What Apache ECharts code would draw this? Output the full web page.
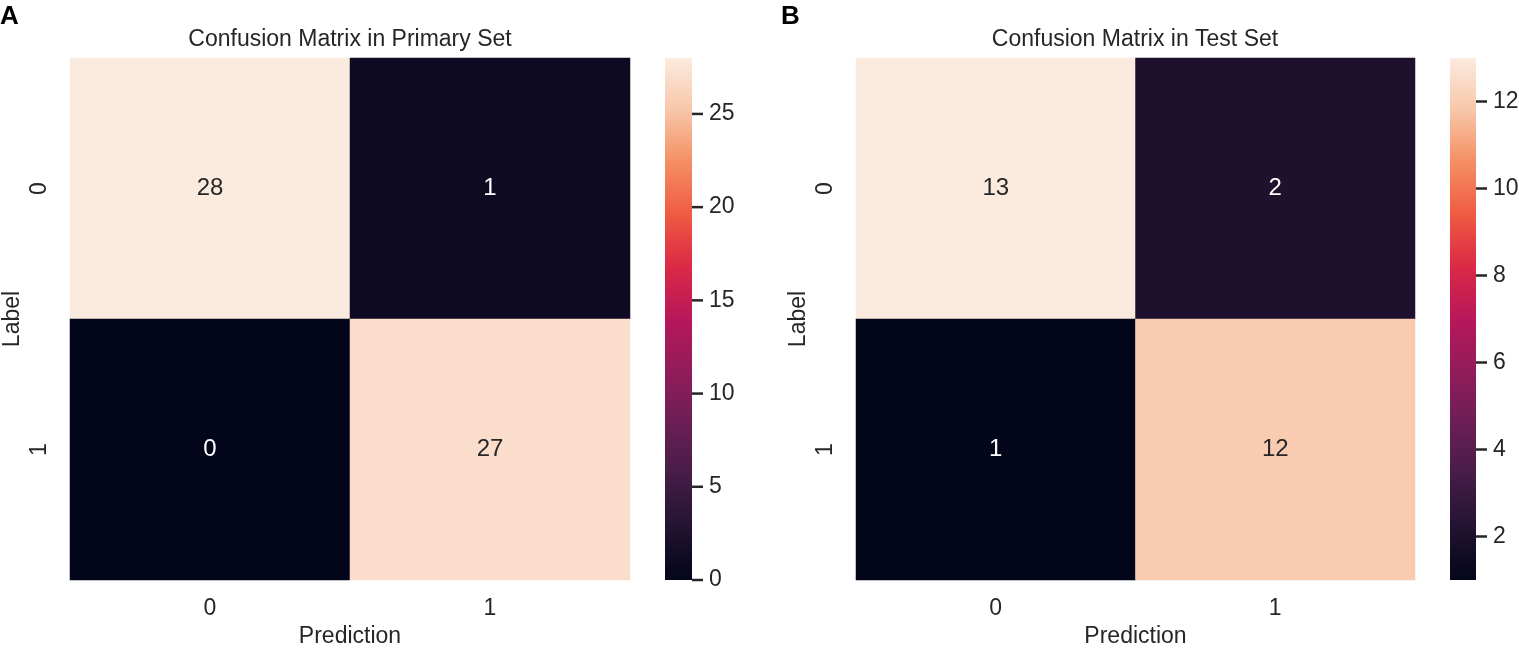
<!DOCTYPE html>
<html>
<head>
<meta charset="utf-8">
<script src="https://cdn.jsdelivr.net/npm/echarts@6/dist/echarts.min.js"></script>
<style>
  html, body { margin: 0; padding: 0; background: #fff; }
  #main { width: 1519px; height: 650px; }
</style>
</head>
<body>
<div id="main"></div>
<script>
// 数据
var xCats = ['0', '1'];
var yCats = ['0', '1'];
var primaryVals = [[28, 1], [0, 27]];   // 行 = Label, 列 = Prediction
var testVals = [[13, 2], [1, 12]];
var primaryRange = [0, 28];
var testRange = [1, 13];
var primaryTicks = [0, 5, 10, 15, 20, 25];
var testTicks = [2, 4, 6, 8, 10, 12];

// rocket 色带（从低到高）
var rocket = ['#03051A', '#221331', '#451C47', '#6B1F56', '#921C5B', '#B8175A',
              '#DB2946', '#EF5B42', '#F58E62', '#F8C6A8', '#FBEBDF'];

var FONT = 'Liberation Sans, Arial, sans-serif';
var TXT = '#262626';

function toData(vals, range){
	var out = [];
	for (var r = 0; r < vals.length; r++) {
		for (var c = 0; c < vals[r].length; c++) {
			var v = vals[r][c];
			var t = (v - range[0]) / (range[1] - range[0]);
			out.push({
				value: [c, r, v],
				label: { color: t < 0.5 ? '#ffffff' : TXT }
			});
		}
	}
	return out;
}

function gradStops(){
	var stops = [];
	for (var i = 0; i < rocket.length; i++) {
		// 顶部为最大值
		stops.push({ offset: i / (rocket.length - 1), color: rocket[rocket.length - 1 - i] });
	}
	return stops;
}

/**
 * 色条
 */
function barRender(params, api){
	var p0 = api.coord([0, api.value(2)]);
	var p1 = api.coord([1, api.value(1)]);
	return {
		type: 'rect',
		shape: { x: p0[0], y: p0[1], width: p1[0] - p0[0], height: p1[1] - p0[1] },
		style: { fill: new echarts.graphic.LinearGradient(0, 0, 0, 1, gradStops()) }
	};
}

/**
 * 色条刻度线
 */
function tickRender(params, api){
	var p = api.coord([1, api.value(0)]);
	return {
		type: 'line',
		shape: { x1: p[0], y1: p[1], x2: p[0] + 11, y2: p[1] },
		style: { stroke: TXT, lineWidth: 2.5 }
	};
}

function catX(idx){
	return {
		type: 'category', gridIndex: idx, data: xCats,
		name: 'Prediction', nameLocation: 'middle', nameGap: 45,
		nameTextStyle: { fontSize: 23, color: TXT, fontFamily: FONT },
		axisLine: { show: false }, axisTick: { show: false },
		axisLabel: { fontSize: 23, color: TXT, fontFamily: FONT, margin: 17 },
		splitLine: { show: false }
	};
}
function catY(idx){
	return {
		type: 'category', gridIndex: idx, data: yCats, inverse: true,
		name: 'Label', nameLocation: 'middle', nameGap: 46,
		nameTextStyle: { fontSize: 23, color: TXT, fontFamily: FONT },
		axisLine: { show: false }, axisTick: { show: false },
		axisLabel: { fontSize: 23, color: TXT, fontFamily: FONT, rotate: 90, margin: 19 },
		splitLine: { show: false }
	};
}
function barX(idx){
	return { type: 'value', gridIndex: idx, min: 0, max: 1, show: false };
}
function barY(idx, range, ticks){
	return {
		type: 'value', gridIndex: idx, min: range[0], max: range[1], position: 'right',
		axisLine: { show: false },
		axisTick: { show: false },
		axisLabel: { fontSize: 23, color: TXT, fontFamily: FONT, margin: 17, customValues: ticks },
		splitLine: { show: false }
	};
}
function tickData(ticks){
	var d = [];
	for (var i = 0; i < ticks.length; i++) d.push([ticks[i]]);
	return d;
}

function mkGrid(left, width){
	return { left: left, top: 58, width: width, height: 522, containLabel: false, outerBoundsMode: 'none' };
}

var myChart = echarts.init(document.getElementById('main'));
var option = {
	backgroundColor: '#ffffff',
	animation: false,
	grid: [mkGrid(70, 560), mkGrid(665, 27), mkGrid(856, 559), mkGrid(1450, 26)],
	xAxis: [catX(0), barX(1), catX(2), barX(3)],
	yAxis: [catY(0), barY(1, primaryRange, primaryTicks), catY(2), barY(3, testRange, testTicks)],
	visualMap: [
		{ show: false, type: 'continuous', seriesIndex: 0, dimension: 2,
		  min: primaryRange[0], max: primaryRange[1], inRange: { color: rocket } },
		{ show: false, type: 'continuous', seriesIndex: 3, dimension: 2,
		  min: testRange[0], max: testRange[1], inRange: { color: rocket } }
	],
	graphic: [
		{ type: 'text', left: 0, top: 4, style: { text: 'A', fontSize: 26, fontWeight: 'bold', fill: '#000', fontFamily: FONT } },
		{ type: 'text', left: 781, top: 4, style: { text: 'B', fontSize: 26, fontWeight: 'bold', fill: '#000', fontFamily: FONT } },
		{ type: 'text', x: 350, y: 40, style: { text: 'Confusion Matrix in Primary Set', fontSize: 23, fill: TXT,
			fontFamily: FONT, align: 'center', verticalAlign: 'middle' } },
		{ type: 'text', x: 1135, y: 40, style: { text: 'Confusion Matrix in Test Set', fontSize: 23, fill: TXT,
			fontFamily: FONT, align: 'center', verticalAlign: 'middle' } }
	],
	series: [
		{ type: 'heatmap', xAxisIndex: 0, yAxisIndex: 0, data: toData(primaryVals, primaryRange),
		  label: { show: true, fontSize: 24, fontFamily: FONT } },
		{ type: 'custom', xAxisIndex: 1, yAxisIndex: 1, renderItem: barRender,
		  data: [[0, primaryRange[0], primaryRange[1]]], silent: true },
		{ type: 'custom', xAxisIndex: 1, yAxisIndex: 1, renderItem: tickRender,
		  data: tickData(primaryTicks), silent: true, clip: false },
		{ type: 'heatmap', xAxisIndex: 2, yAxisIndex: 2, data: toData(testVals, testRange),
		  label: { show: true, fontSize: 24, fontFamily: FONT } },
		{ type: 'custom', xAxisIndex: 3, yAxisIndex: 3, renderItem: barRender,
		  data: [[0, testRange[0], testRange[1]]], silent: true },
		{ type: 'custom', xAxisIndex: 3, yAxisIndex: 3, renderItem: tickRender,
		  data: tickData(testTicks), silent: true, clip: false }
	]
};
myChart.setOption(option);
</script>
</body>
</html>
